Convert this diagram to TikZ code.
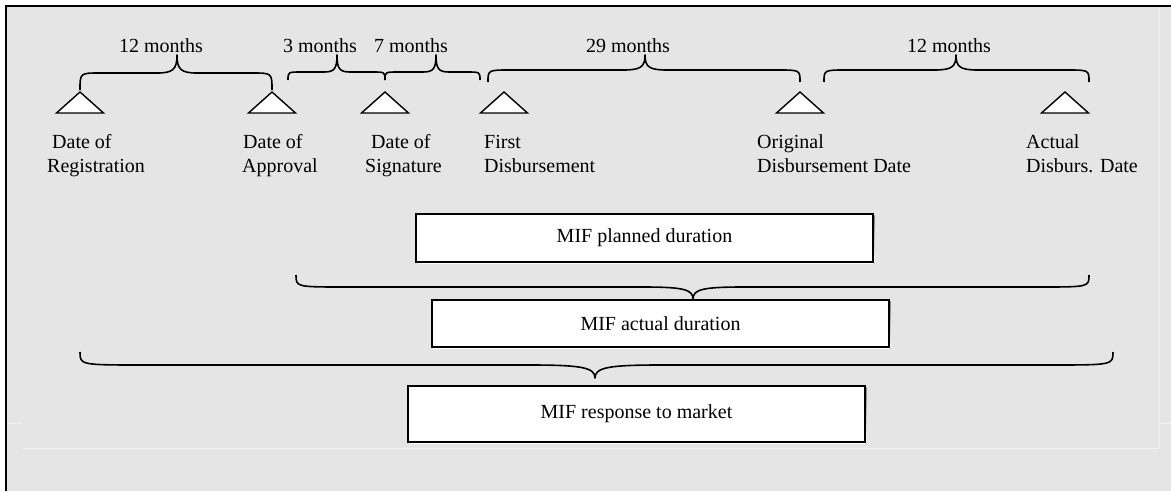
\documentclass[tikz,border=0pt]{standalone}
\usepackage{fontspec}
\setmainfont{Liberation Serif}
\definecolor{bg}{RGB}{229,229,229}
\definecolor{faint}{RGB}{241,241,241}
\definecolor{shade}{RGB}{150,150,150}
\newcommand\cbrace[7]{% x1 x2 xt yend yh ytip r
  \draw[brc] (#1,#4) .. controls (#1,#5) and (#1,#5) .. ({#1+#7},#5)
    -- ({#3-#7},#5) .. controls ({#3-0.2*#7},#5) and (#3,{#5+0.2*(#6-#5)}) .. (#3,#6)
    .. controls (#3,{#5+0.2*(#6-#5)}) and ({#3+0.2*#7},#5) .. ({#3+#7},#5)
    -- ({#2-#7},#5) .. controls (#2,#5) and (#2,#5) .. (#2,#4);}
\begin{document}
\begin{tikzpicture}[x=1pt,y=-1pt,
  every node/.style={font=\fontsize{20}{24}\selectfont, inner sep=0pt},
  lbl/.style={anchor=base west},
  mlbl/.style={anchor=base},
  brc/.style={line width=1.6pt, line join=round},
  tri/.style={draw, fill=white, line width=1.4pt, line join=miter},
  box/.style={draw, fill=white, line width=1.6pt, minimum width=457pt},
  faintline/.style={draw=faint, line width=0.8pt}]
\useasboundingbox (0,0) rectangle (1171,491);
\fill[white] (0,0) rectangle (1171,491);
\fill[bg] (6,6) rectangle (1171,491);
\draw[line width=2.3pt] (6.2,491) -- (6.2,6) -- (1171,6);
% faint artefact lines
\draw[faintline] (1159,8) -- (1159,448);
\draw[faintline] (22,448) -- (1159,448);
\draw[faintline] (8,423) -- (21,423);
\draw[faintline] (1159,423) -- (1171,423);

% triangles (apex coordinates)
\foreach \n/\x in {t1/80, t2/272, t3/385, t4/504, t5/800, t6/1065}{
  \coordinate (\n) at (\x,92);
  \draw[tri] (\n) -- ++(23.5,21) -- ++(-47,0) -- cycle;
}

% month labels
\node[mlbl] (m1) at (161,52) {12 months};
\node[mlbl] (m2) at (320,52) {3 months};
\node[mlbl] (m3) at (411,52) {7 months};
\node[mlbl] (m4) at (628,52) {29 months};
\node[mlbl] (m5) at (949,52) {12 months};

% upper braces
\cbrace{80}{272}{177}{90}{73}{55}{20}
\cbrace{288}{385}{337}{80}{72}{55}{13}
\cbrace{385}{480}{436}{80}{72}{55}{13}
\cbrace{488}{800}{645}{82}{70}{55}{22}
\cbrace{824}{1089}{956}{82}{70}{55}{22}

% milestone labels
\node[lbl] (r1) at (52,148) {Date of};
\node[lbl] (r2) at (47,172) {Registration};
\node[lbl] (a1) at (243,148) {Date of};
\node[lbl] (a2) at (242,172) {Approval};
\node[lbl] (s1) at (371,148) {Date of};
\node[lbl] (s2) at (365,172) {Signature};
\node[lbl] (f1) at (484,148) {First};
\node[lbl] (f2) at (484,172) {Disbursement};
\node[lbl] (o1) at (757,148) {Original};
\node[lbl] (o2) at (757,172) {Disbursement Date};
\node[lbl] (c1) at (1026,148) {Actual};
\node[lbl] (c2) at (1026,172) {Disburs. Date};

% box shadows
\fill[shade] (417.5,215.5) rectangle (874.5,263.5);
\fill[shade] (433.5,301.5) rectangle (890.5,348.5);
\fill[shade] (409.5,387.5) rectangle (866.5,443.5);
% boxes
\node[box, minimum height=48pt] (plan) at (644.5,238) {MIF planned duration};
\node[box, minimum height=47pt] (act) at (660.5,323.5) {MIF actual duration};
\node[box, minimum height=56pt] (resp) at (636.5,414) {MIF response to market};

% lower braces
\cbrace{296}{1089}{693}{275}{287}{299}{50}
\cbrace{80}{1113}{595}{352}{365}{378}{65}
\end{tikzpicture}
\end{document}
